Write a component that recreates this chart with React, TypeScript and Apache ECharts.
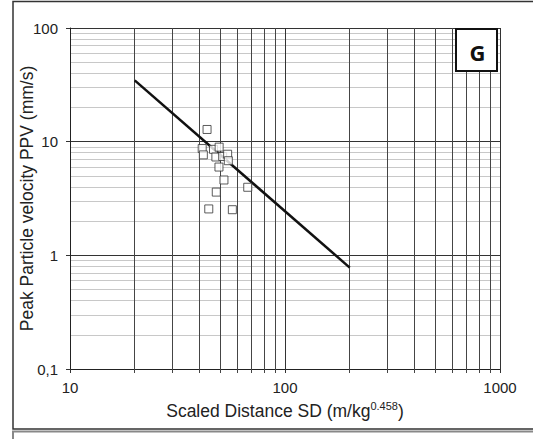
import React, { useEffect, useRef } from "react";
import * as echarts from "echarts";

// Measured data (scaled distance vs PPV)
const sdValues = [43.4, 41.2, 41.7, 46.5, 49.4, 47.7, 51.3, 54.1, 54.5, 49.3, 52.0, 67.1, 47.9, 44.2, 56.9];
const ppvValues = [12.8, 8.7, 7.65, 8.56, 8.95, 7.33, 7.4, 7.75, 6.8, 5.98, 4.6, 3.97, 3.6, 2.56, 2.52];

// Fitted attenuation line endpoints
const fitSD = [20, 200];
const fitPPV = [34.6, 0.78];

// Axis ranges
const xRange = [10, 1000];
const yRange = [0.1, 100];

const panelLabel = "G";
const xTitleMain = "Scaled Distance SD (m/kg";
const xTitleSup = "0.458";
const yTitle = "Peak Particle velocity PPV (mm/s)";

const FONT = '"Liberation Sans", Arial, sans-serif';

export default function App() {
  const ref = useRef<HTMLDivElement>(null);

  useEffect(() => {
    document.body.style.margin = "0";
    const chart = echarts.init(ref.current!, null, { renderer: "svg" });
    const fmt = (v: number) => String(parseFloat(Number(v).toPrecision(4))).replace(".", ",");
    chart.setOption({
      animation: false,
      backgroundColor: "#fff",
      textStyle: { fontFamily: FONT },
      grid: { left: 70, right: 33, top: 28, bottom: 70, containLabel: false },
      xAxis: {
        type: "log",
        logBase: 10,
        min: xRange[0],
        max: xRange[1],
        name: `{a|${xTitleMain}}{s|${xTitleSup}}{a|)}`,
        nameLocation: "middle",
        nameGap: 31,
        nameMoveOverlap: false,
        nameTextStyle: {
          rich: {
            a: { fontSize: 17.5, lineHeight: 22, color: "#222", fontFamily: FONT },
            s: { fontSize: 11, lineHeight: 11, verticalAlign: "top", color: "#222", fontFamily: FONT },
          },
        },
        axisLine: { show: true, lineStyle: { color: "#222", width: 1 } },
        axisTick: { show: true, length: 4, lineStyle: { color: "#333" } },
        minorTick: { show: true, splitNumber: 9, length: 4, lineStyle: { color: "#444" } },
        axisLabel: { fontSize: 15, color: "#222", margin: 11, fontFamily: FONT, formatter: fmt },
        splitLine: { show: true, lineStyle: { color: "#333", width: 1 } },
        minorSplitLine: { show: true, lineStyle: { color: "#454545", width: 1 } },
      },
      yAxis: {
        type: "log",
        logBase: 10,
        min: yRange[0],
        max: yRange[1],
        name: yTitle,
        nameLocation: "middle",
        nameGap: 34,
        nameRotate: 90,
        nameMoveOverlap: false,
        nameTextStyle: { fontSize: 17.5, color: "#222", fontFamily: FONT },
        axisLine: { show: true, lineStyle: { color: "#222", width: 1 } },
        axisTick: { show: true, length: 4, lineStyle: { color: "#333" } },
        minorTick: { show: false, splitNumber: 9 },
        axisLabel: { fontSize: 15, color: "#222", margin: 12, formatter: fmt, fontFamily: FONT },
        splitLine: { show: true, lineStyle: { color: "#333", width: 1 } },
        minorSplitLine: { show: true, lineStyle: { color: "#c8c8c8", width: 1 } },
      },
      series: [
        {
          type: "line",
          data: fitSD.map((x, i) => [x, fitPPV[i]]),
          showSymbol: false,
          symbol: "none",
          lineStyle: { color: "#111", width: 2.5 },
          z: 2,
          silent: true,
        },
        {
          type: "scatter",
          data: sdValues.map((x, i) => [x, ppvValues[i]]),
          symbol: "rect",
          symbolSize: 8,
          itemStyle: { color: "#fff", borderColor: "#333", borderWidth: 1 },
          z: 3,
        },
      ],
      graphic: [
        {
          type: "rect",
          shape: { x: 13, y: 1.5, width: 540, height: 427.5 },
          style: { fill: "none", stroke: "#333", lineWidth: 1.5 },
          silent: true,
        },
        {
          type: "polyline",
          shape: { points: [[13, 445], [13, 431.5], [545, 431.5]] },
          style: { fill: "none", stroke: "#888", lineWidth: 2 },
          silent: true,
        },
        {
          type: "rect",
          shape: { x: 456, y: 29, width: 41, height: 42 },
          style: { fill: "#fff", stroke: "#111", lineWidth: 2 },
          z: 10,
        },
        {
          type: "text",
          x: 477.5,
          y: 52,
          style: {
            text: panelLabel,
            align: "center",
            verticalAlign: "middle",
            font: 'bold 22px "Open Sans", "Noto Sans", sans-serif',
            fill: "#111",
          },
          z: 11,
        },
      ],
    });
    return () => chart.dispose();
  }, []);

  return (
    <div
      ref={ref}
      style={{ position: "absolute", left: 0, top: 0, width: 533, height: 439, background: "#fff" }}
    />
  );
}
